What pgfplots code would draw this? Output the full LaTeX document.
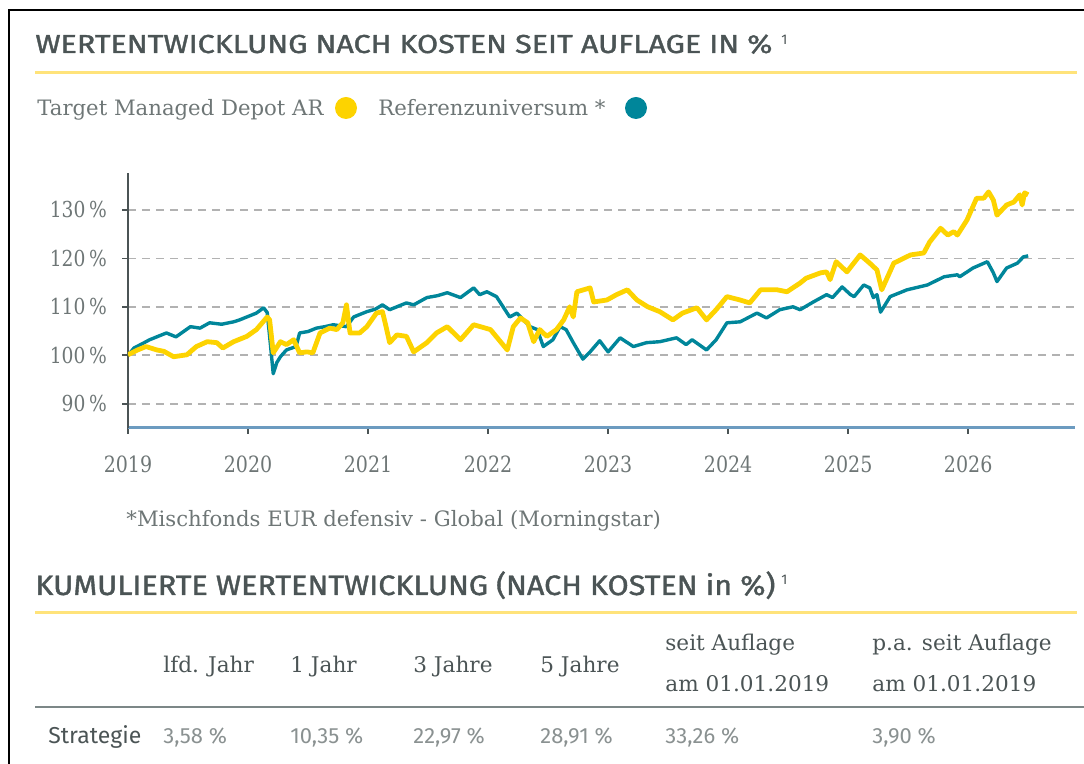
\documentclass[border=0pt]{standalone}
\usepackage{pgfplots}
\pgfplotsset{compat=1.18}
\usepackage{fontspec}
\usepackage{graphicx}
\setmainfont{DejaVu Serif}
\newfontfamily\slab{DejaVu Serif}
\newfontfamily\slabnum[FakeStretch=0.85]{DejaVu Serif}
\newfontfamily\din{Fira Sans}
\newfontfamily\dinb[FakeBold=1.3]{Fira Sans}
\definecolor{tyellow}{HTML}{FDD300}
\definecolor{tteal}{HTML}{00869A}
\definecolor{lineyellow}{HTML}{FFE37A}
\definecolor{titlegray}{HTML}{4B5455}
\definecolor{txtgray}{HTML}{6E7676}
\definecolor{valgray}{HTML}{8A9191}
\definecolor{axisblue}{HTML}{6C9BC0}
\definecolor{sepgray}{HTML}{7C8787}
\begin{document}
\begin{tikzpicture}
\useasboundingbox (0,0) rectangle (542pt,-382pt);
\begin{scope}[x=0.5pt,y=-0.5pt]
\draw[black,line width=1pt] (9,764) -- (9,10) -- (1084,10);
% title 1
\node[anchor=base west, inner sep=0, text=titlegray] at (35,53) {\resizebox{368.5pt}{\height}{\dinb\fontsize{13}{15}\selectfont WERTENTWICKLUNG NACH KOSTEN SEIT AUFLAGE IN \%}};
\node[anchor=base west, inner sep=0, text=titlegray] at (781,45) {\din\fontsize{7}{8}\selectfont 1};
\draw[lineyellow, line width=1.5pt] (35,73) -- (1077,73);
% legend
\node[anchor=base west, inner sep=0, text=txtgray, font=\slab\fontsize{10.6}{12}\selectfont] at (37,115.5) {Target Managed Depot AR};
\fill[tyellow] (346,108) circle (5.5pt);
\node[anchor=base west, inner sep=0, text=txtgray, font=\slab\fontsize{10.6}{12}\selectfont] at (378,115.5) {Referenzuniversum *};
\fill[tteal] (636,108) circle (5.5pt);
% footnote
\node[anchor=base west, inner sep=0, text=txtgray, font=\slab\fontsize{10.6}{12}\selectfont] at (126,527) {*Mischfonds EUR defensiv - Global (Morningstar)};
% title 2
\node[anchor=base west, inner sep=0, text=titlegray] at (35,595) {\resizebox{370pt}{\height}{\dinb\fontsize{14}{16}\selectfont KUMULIERTE WERTENTWICKLUNG (NACH KOSTEN in \%)}};
\node[anchor=base west, inner sep=0, text=titlegray] at (781,585) {\din\fontsize{7}{8}\selectfont 1};
\draw[lineyellow, line width=1.5pt] (35,613) -- (1077,613);
% table header
\begin{scope}[every node/.style={anchor=base west, inner sep=0, text=titlegray, font=\slab\fontsize{10.8}{12}\selectfont}]
\node at (163,673) {lfd. Jahr};
\node at (290,673) {1 Jahr};
\node at (413,673) {3 Jahre};
\node at (540,673) {5 Jahre};
\node at (665,651) {seit Auflage};
\node at (665,692) {am 01.01.2019};
\node at (872,651) {p.a. seit Auflage};
\node at (872,692) {am 01.01.2019};
\end{scope}
\draw[sepgray, line width=1.4pt] (35,707) -- (1084,707);
\node[anchor=base west, inner sep=0, text=titlegray, font=\din\fontsize{11.5}{12}\selectfont] at (48,744) {Strategie};
\begin{scope}[every node/.style={anchor=base west, inner sep=0, text=valgray, font=\din\fontsize{11}{12}\selectfont}]
\node at (163,744) {3,58 \%};
\node at (290,744) {10,35 \%};
\node at (413,744) {22,97 \%};
\node at (540,744) {28,91 \%};
\node at (665,744) {33,26 \%};
\node at (872,744) {3,90 \%};
\end{scope}
\end{scope}
\begin{axis}[at={(64pt,-214pt)}, anchor=south west, scale only axis,
  width=473.5pt, height=127.5pt,
  xmin=2019, xmax=2026.89, ymin=85, ymax=137.6,
  axis x line=bottom, axis y line=left,
  axis line style={-},
  x axis line style={axisblue, line width=1.5pt},
  y axis line style={titlegray, line width=0.9pt},
  xtick={2019,2020,2021,2022,2023,2024,2025,2026},
  xticklabels={2019,2020,2021,2022,2023,2024,2025,2026},
  ytick={90,100,110,120,130},
  yticklabels={90\,\%,100\,\%,110\,\%,120\,\%,130\,\%},
  tick align=outside, major tick length=3pt,
  every tick/.style={titlegray, line width=0.8pt},
  xticklabel style={font=\slabnum\fontsize{11.2}{12}\selectfont, text=txtgray, yshift=-7.5pt},
  yticklabel style={font=\slabnum\fontsize{11}{12}\selectfont, text=txtgray, xshift=-4pt},
  ymajorgrids, major grid style={gray!60, line width=0.8pt, dash pattern=on 4pt off 3pt},
]
\addplot[tteal, line width=1.7pt, line join=round] coordinates {
(2019.00,100.0) (2019.05,101.5) (2019.12,102.4) (2019.18,103.2) (2019.32,104.6)
(2019.40,103.8) (2019.52,105.9) (2019.60,105.6) (2019.68,106.7) (2019.78,106.4)
(2019.88,106.9) (2019.93,107.3) (2020.07,108.7) (2020.13,109.8) (2020.16,108.8)
(2020.18,103.9) (2020.21,96.2) (2020.24,98.5) (2020.27,99.7) (2020.32,101.1)
(2020.40,101.8) (2020.43,104.6) (2020.50,104.9) (2020.57,105.6) (2020.64,105.9)
(2020.71,106.3) (2020.82,105.9) (2020.88,107.9) (2020.99,109.0) (2021.06,109.5)
(2021.12,110.4) (2021.18,109.4) (2021.32,110.8) (2021.38,110.4) (2021.49,111.9)
(2021.58,112.3) (2021.66,112.9) (2021.77,111.9) (2021.88,113.9) (2021.93,112.5)
(2021.99,113.1) (2022.07,112.1) (2022.18,107.9) (2022.24,108.7) (2022.35,105.9)
(2022.41,105.3) (2022.46,101.8) (2022.54,103.2) (2022.60,105.9) (2022.65,105.3)
(2022.71,102.6) (2022.79,99.2) (2022.85,100.7) (2022.93,103.0) (2023.00,100.7)
(2023.10,103.6) (2023.21,101.8) (2023.32,102.6) (2023.43,102.8) (2023.57,103.6)
(2023.65,102.2) (2023.70,103.2) (2023.82,101.1) (2023.90,103.2) (2023.99,106.7)
(2024.10,106.9) (2024.24,108.7) (2024.32,107.7) (2024.43,109.4) (2024.54,110.0)
(2024.60,109.4) (2024.71,111.0) (2024.82,112.5) (2024.87,111.9) (2024.95,114.1)
(2025.02,112.5) (2025.05,112.1) (2025.13,114.5) (2025.18,113.9) (2025.21,111.9)
(2025.24,112.5) (2025.27,108.9) (2025.35,112.1) (2025.49,113.5) (2025.66,114.5)
(2025.80,116.2) (2025.91,116.6) (2025.93,116.2) (2026.04,118.0) (2026.16,119.3)
(2026.21,117.0) (2026.24,115.2) (2026.32,118.0) (2026.41,119.0) (2026.46,120.3)
(2026.50,120.5)
};
\addplot[tyellow, line width=2.4pt, line join=round] coordinates {
(2019.00,100.1) (2019.08,101.1) (2019.15,101.8) (2019.24,101.1) (2019.30,100.8)
(2019.38,99.7) (2019.49,100.1) (2019.57,101.8) (2019.66,102.8) (2019.74,102.6)
(2019.79,101.5) (2019.88,102.8) (2019.99,103.9) (2020.07,105.3) (2020.16,107.9)
(2020.18,107.3) (2020.21,100.5) (2020.27,102.8) (2020.32,102.2) (2020.38,103.2)
(2020.43,100.5) (2020.49,100.7) (2020.54,100.5) (2020.60,104.6) (2020.68,105.6)
(2020.74,105.3) (2020.79,106.7) (2020.82,110.4) (2020.85,104.6) (2020.93,104.6)
(2020.99,105.9) (2021.07,108.7) (2021.12,109.0) (2021.15,105.9) (2021.18,102.6)
(2021.24,104.2) (2021.32,103.9) (2021.38,100.7) (2021.49,102.6) (2021.57,104.6)
(2021.66,105.9) (2021.77,103.2) (2021.88,106.3) (2022.02,105.3) (2022.16,101.1)
(2022.21,105.9) (2022.27,107.7) (2022.33,106.7) (2022.38,102.8) (2022.43,105.3)
(2022.49,103.9) (2022.57,105.3) (2022.63,107.3) (2022.68,110.0) (2022.71,107.9)
(2022.74,113.1) (2022.85,113.9) (2022.88,111.0) (2022.99,111.4) (2023.07,112.5)
(2023.16,113.5) (2023.24,111.4) (2023.33,110.0) (2023.43,109.0) (2023.54,107.3)
(2023.62,108.7) (2023.74,109.8) (2023.82,107.3) (2023.90,109.4) (2023.99,112.1)
(2024.10,111.4) (2024.18,110.8) (2024.27,113.5) (2024.41,113.5) (2024.49,113.1)
(2024.60,114.9) (2024.65,115.9) (2024.77,117.0) (2024.82,117.2) (2024.85,115.6)
(2024.90,119.3) (2024.99,117.2) (2025.10,120.7) (2025.18,119.0) (2025.24,117.6)
(2025.28,113.5) (2025.38,119.0) (2025.52,120.7) (2025.63,121.1) (2025.68,123.4)
(2025.77,126.2) (2025.83,124.8) (2025.88,125.5) (2025.91,124.8) (2025.99,127.9)
(2026.07,132.4) (2026.13,132.4) (2026.17,133.7) (2026.21,132.0) (2026.24,128.9)
(2026.32,131.0) (2026.38,131.6) (2026.43,133.1) (2026.45,131.0) (2026.47,133.5)
(2026.50,133.1)
};
\end{axis}
\end{tikzpicture}
\end{document}
